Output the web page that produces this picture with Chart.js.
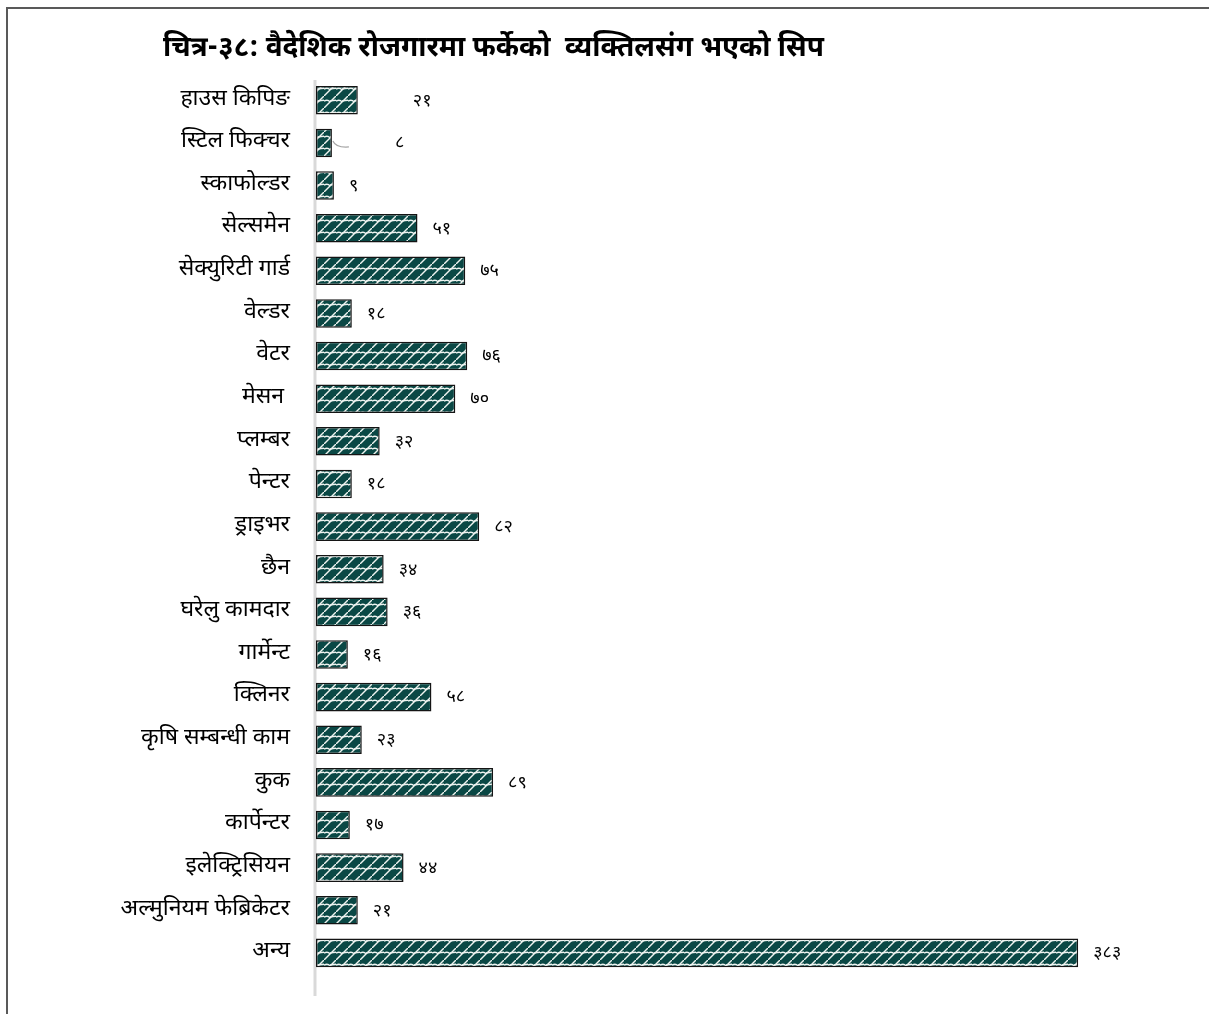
<!DOCTYPE html>
<html>
<head>
<meta charset="utf-8">
<script src="https://cdn.jsdelivr.net/npm/chart.js@4.4.1/dist/chart.umd.min.js"></script>
<style>
    html, body { margin: 0; padding: 0; background: #fff; }
    #wrap { position: relative; width: 1209px; height: 1014px; }
</style>
</head>
<body>
<div id="wrap"><canvas id="skillChart" width="1209" height="1014"></canvas></div>
<script>
// data
const chartTitle = 'चित्र-३८: वैदेशिक रोजगारमा फर्केको  व्यक्तिलसंग भएको सिप';
const skills = [
    'हाउस किपिङ', 'स्टिल फिक्चर', 'स्काफोल्डर', 'सेल्समेन', 'सेक्युरिटी गार्ड',
    'वेल्डर', 'वेटर', 'मेसन ', 'प्लम्बर', 'पेन्टर', 'ड्राइभर', 'छैन',
    'घरेलु कामदार', 'गार्मेन्ट', 'क्लिनर', 'कृषि सम्बन्धी काम', 'कुक',
    'कार्पेन्टर', 'इलेक्ट्रिसियन', 'अल्मुनियम फेब्रिकेटर', 'अन्य'
];
const persons = [21, 8, 9, 51, 75, 18, 76, 70, 32, 18, 82, 34, 36, 16, 58, 23, 89, 17, 44, 21, 383];
const xMax = 400;

const devFont = '"Noto Sans Devanagari", "Noto Sans", "Lohit Devanagari", sans-serif';

function toNepaliDigits(n) {
    const d = '०१२३४५६७८९';
    return String(n).replace(/[0-9]/g, c => d[+c]);
}

// shingle style fill like the original
function makePattern() {
    const s = 12;
    const t = document.createElement('canvas');
    t.width = s; t.height = s;
    const c = t.getContext('2d');
    c.fillStyle = '#0a4845';
    c.fillRect(0, 0, s, s);
    c.strokeStyle = '#eef3f0';
    c.lineWidth = 1.4;
    // main diagonal
    c.beginPath();
    c.moveTo(0, s); c.lineTo(s, 0);
    c.stroke();
    // curved hook going left from the middle of the diagonal
    c.beginPath();
    c.moveTo(s / 2, s / 2);
    c.quadraticCurveTo(s / 2 - 2, s / 2 - 3, s / 2 - 6, s / 2 - 1);
    c.stroke();
    c.beginPath();
    c.moveTo(s + s / 2, s / 2);
    c.quadraticCurveTo(s + s / 2 - 2, s / 2 - 3, s / 2, s / 2 - 1);
    c.stroke();
    return c.createPattern(t, 'repeat');
}

const ctx = document.getElementById('skillChart').getContext('2d');

const framePlugin = {
    id: 'frame',
    beforeDraw(chart) {
        const c = chart.ctx;
        c.save();
        c.fillStyle = '#fff';
        c.fillRect(0, 0, chart.width, chart.height);
        // outer frame (top + left only visible)
        c.strokeStyle = '#595959';
        c.lineWidth = 2;
        c.beginPath();
        c.moveTo(7, chart.height);
        c.lineTo(7, 8);
        c.lineTo(chart.width, 8);
        c.stroke();
        // title
        c.fillStyle = '#000';
        c.font = 'bold 28px ' + devFont;
        c.textBaseline = 'alphabetic';
        c.textAlign = 'left';
        c.fillText(chartTitle, 163, 56);
        // axis line
        const left = chart.chartArea.left;
        c.strokeStyle = '#d9d9d9';
        c.lineWidth = 3;
        c.beginPath();
        c.moveTo(left - 1, 80);
        c.lineTo(left - 1, 996);
        c.stroke();
        c.restore();
    }
};

const valueLabels = {
    id: 'valueLabels',
    afterDatasetsDraw(chart) {
        const c = chart.ctx;
        const meta = chart.getDatasetMeta(0);
        c.save();
        c.fillStyle = '#000';
        c.font = '18px ' + devFont;
        c.textBaseline = 'middle';
        c.textAlign = 'left';
        meta.data.forEach((bar, i) => {
            let x = bar.x + 15;
            if (i === 0) x = bar.x + 55;
            if (i === 1) {
                x = bar.x + 63;
                // leader line
                c.strokeStyle = '#a6a6a6';
                c.lineWidth = 1.2;
                c.beginPath();
                c.moveTo(bar.x + 1, bar.y - 2);
                c.quadraticCurveTo(bar.x + 4, bar.y + 5, bar.x + 17, bar.y + 4);
                c.stroke();
            }
            c.fillText(toNepaliDigits(persons[i]), x, bar.y + 2);
        });
        c.restore();
    }
};

new Chart(ctx, {
    type: 'bar',
    data: {
        labels: skills,
        datasets: [{
            data: persons,
            backgroundColor: makePattern(),
            borderColor: '#141414',
            borderWidth: 1.5,
            borderSkipped: false,
            categoryPercentage: 1,
            barPercentage: 0.67
        }]
    },
    options: {
        indexAxis: 'y',
        responsive: false,
        animation: false,
        layout: {
            padding: { left: 0, right: 97, top: 79, bottom: 22 }
        },
        plugins: {
            legend: { display: false },
            title: { display: false },
            tooltip: { enabled: false }
        },
        scales: {
            x: {
                display: false,
                min: 0,
                max: xMax
            },
            y: {
                grid: { display: false, drawTicks: false },
                border: { display: false },
                ticks: {
                    color: '#000',
                    padding: 26,
                    font: { family: devFont, size: 23 }
                },
                afterFit(scale) { scale.width = 316; }
            }
        }
    },
    plugins: [framePlugin, valueLabels]
});
</script>
</body>
</html>
